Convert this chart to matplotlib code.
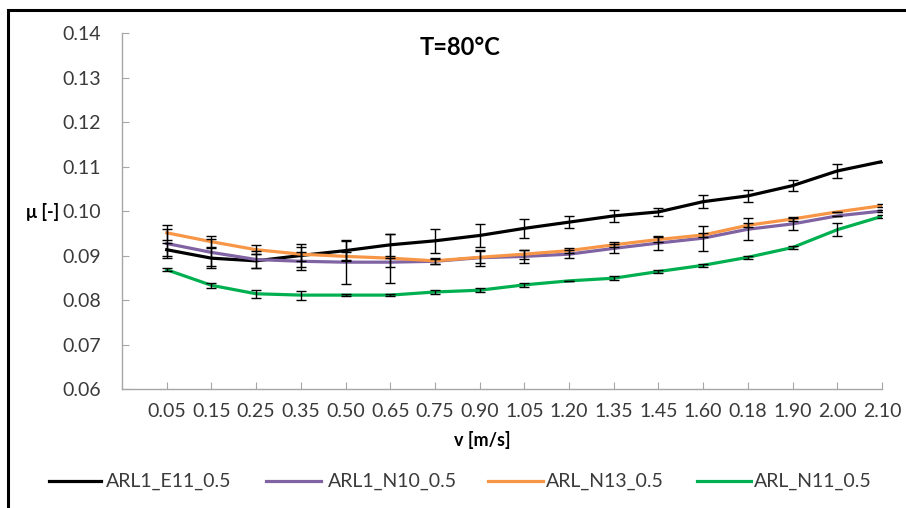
import matplotlib
matplotlib.use("Agg")
import matplotlib.pyplot as plt
from matplotlib.patches import Rectangle
from matplotlib.lines import Line2D
import numpy as np

plt.rcParams['font.family'] = ['Lato', 'DejaVu Sans']

categories = ["0.05", "0.15", "0.25", "0.35", "0.50", "0.65", "0.75", "0.90", "1.05",
              "1.20", "1.35", "1.45", "1.60", "0.18", "1.90", "2.00", "2.10"]

e11 = [0.0913, 0.0894, 0.0888, 0.0900, 0.0911, 0.0924, 0.0933, 0.0945, 0.0961,
       0.0975, 0.0989, 0.0998, 0.1021, 0.1034, 0.1057, 0.1090, 0.1111]
e11_err = [0.0015, 0.0022, 0.0015, 0.0025, 0.0022, 0.0025, 0.0027, 0.0025, 0.0022,
           0.0014, 0.0014, 0.0009, 0.0014, 0.0013, 0.0013, 0.0015, 0.0]

n10 = [0.0927, 0.0907, 0.0891, 0.0887, 0.0885, 0.0885, 0.0887, 0.0895, 0.0898,
       0.0903, 0.0916, 0.0928, 0.0939, 0.0959, 0.0971, 0.0989, 0.1000]
n10_err = [0.0033, 0.0030, 0.0020, 0.0020, 0.0050, 0.0010, 0.0006, 0.0018, 0.0015,
           0.0009, 0.0010, 0.0016, 0.0028, 0.0025, 0.0013, 0.0, 0.0003]

n13 = [0.0951, 0.0931, 0.0913, 0.0903, 0.0898, 0.0894, 0.0888, 0.0896, 0.0903,
       0.0911, 0.0924, 0.0936, 0.0946, 0.0968, 0.0982, 0.0998, 0.1012]
n13_err = [0.0017, 0.0013, 0.0010, 0.0015, 0.0010, 0.0055, 0.0006, 0.0013, 0.0010,
           0.0005, 0.0006, 0.0005, 0.0005, 0.0005, 0.0005, 0.0, 0.0003]

n11 = [0.0868, 0.0833, 0.0814, 0.0811, 0.0811, 0.0811, 0.0818, 0.0822, 0.0834,
       0.0843, 0.0849, 0.0864, 0.0878, 0.0896, 0.0918, 0.0958, 0.0988]
n11_err = [0.0003, 0.0006, 0.0009, 0.0010, 0.0003, 0.0003, 0.0005, 0.0005, 0.0004,
           0.0, 0.0004, 0.0003, 0.0004, 0.0003, 0.0003, 0.0015, 0.0003]

names = ["ARL1_E11_0.5", "ARL1_N10_0.5", "ARL_N13_0.5", "ARL_N11_0.5"]
colors = ["#000000", "#7F63A2", "#F79646", "#00B050"]
values = [e11, n10, n13, n11]
errors = [e11_err, n10_err, n13_err, n11_err]

W, H = 906, 508
fig = plt.figure(figsize=(W / 100, H / 100), dpi=100)
ax = fig.add_axes([122 / W, 1 - 389 / H, (882 - 122) / W, (389 - 33) / H])

x = np.arange(len(categories))
for vals, err in zip(values, errors):
    ax.errorbar(x, vals, yerr=err, fmt='none', ecolor='black', elinewidth=1.0,
                capsize=3.8, capthick=1.0, zorder=3)
for name, vals, col in zip(names, values, colors):
    ax.plot(x, vals, color=col, lw=2.3, label=name, zorder=2)

ax.set_xlim(-1, 16)
ax.set_ylim(0.06, 0.14)
ax.set_xticks(x)
ax.set_xticklabels(categories)
yt = np.arange(0.06, 0.1401, 0.01)
ax.set_yticks(yt)
ax.set_yticklabels([f"{v:.2f}" for v in yt])

for s in ['top', 'right']:
    ax.spines[s].set_visible(False)
for s in ['left', 'bottom']:
    ax.spines[s].set_color('#A6A6A6')
    ax.spines[s].set_linewidth(1.0)

ax.tick_params(axis='x', direction='in', length=5, color='#A6A6A6', pad=10,
               labelsize=14, labelcolor='#3A3A3A')
ax.tick_params(axis='y', direction='in', length=5, color='#A6A6A6', pad=15,
               labelsize=14, labelcolor='#3A3A3A')

fig.text(43 / W, 1 - 212 / H, "μ [-]", fontsize=13, fontweight='bold',
         ha='center', va='center')
fig.text(482 / W, 1 - 440 / H, "v [m/s]", fontsize=13, fontweight='bold',
         ha='center', va='center')
fig.text(460 / W, 1 - 47 / H, "T=80°C", fontsize=17, fontweight='bold',
         ha='center', va='center')

# legend entries (manual placement, Excel-like)
leg_y = 1 - 481 / H
line_x = [(49, 101), (266, 321), (488, 543), (697, 751)]
text_x = [106, 328, 546, 754]
for (x0, x1), tx, name, col in zip(line_x, text_x, names, colors):
    fig.add_artist(Line2D([x0 / W, x1 / W], [leg_y, leg_y], color=col, lw=2.3,
                          transform=fig.transFigure))
    fig.text(tx / W, leg_y, name, fontsize=14, color='#3A3A3A',
             ha='left', va='center')

border = Rectangle((8 / W, -0.1), 1.1, 1 - 10 / H + 0.1, transform=fig.transFigure,
                   fill=False, edgecolor='black', lw=2.2, clip_on=False)
fig.patches.append(border)

fig.savefig("out.png", dpi=100)
